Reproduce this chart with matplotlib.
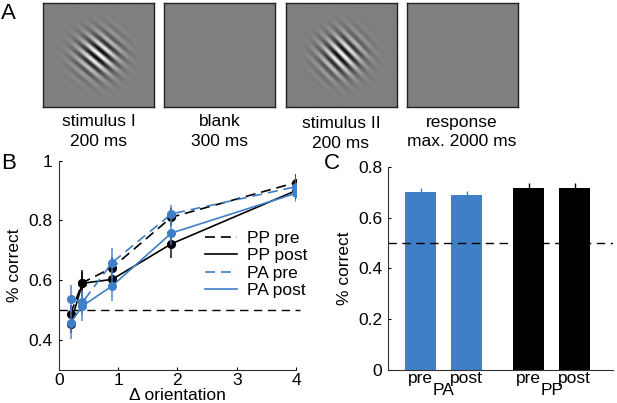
import matplotlib
matplotlib.use("Agg")
import matplotlib.pyplot as plt
import numpy as np

plt.rcParams['font.family'] = ['Liberation Sans', 'DejaVu Sans']
plt.rcParams['font.size'] = 12.5

# ---- data ----
# panel A: trial sequence
frame_titles = ['stimulus I', 'blank', 'stimulus II', 'response']
frame_times = ['200 ms', '300 ms', '200 ms', 'max. 2000 ms']
frame_has_grating = [True, False, True, False]
grating_angle = [40, None, 46, None]   # degrees, stripe tilt

# panel B: psychometric curves
d_orient = [0.2, 0.4, 0.9, 1.9, 4.0]
pp_pre = [0.488, 0.592, 0.642, 0.811, 0.927]
pp_post = [0.455, 0.590, 0.603, 0.722, 0.900]
pa_pre = [0.538, 0.526, 0.659, 0.822, 0.913]
pa_post = [0.458, 0.514, 0.581, 0.758, 0.891]
pp_pre_err = [0.03, 0.035, 0.035, 0.03, 0.03]
pp_post_err = [0.03, 0.045, 0.03, 0.048, 0.03]
pa_pre_err = [0.045, 0.04, 0.05, 0.03, 0.03]
pa_post_err = [0.055, 0.05, 0.05, 0.04, 0.03]

# panel C: mean performance
bar_labels = ['pre', 'post', 'pre', 'post']
group_labels = ['PA', 'PP']
bar_values = [0.702, 0.687, 0.715, 0.717]
bar_errs = [0.013, 0.018, 0.022, 0.020]

chance = 0.5

blue = '#3f7fc8'
W, H = 617, 403


def fx(px):
    return px / W


def fy(py):
    return 1 - py / H


def gabor(w, h, angle, lam=8.5, sigma=14.0):
    yy, xx = np.mgrid[0:h, 0:w]
    xx = xx - (w - 1) / 2
    yy = yy - (h - 1) / 2
    th = np.deg2rad(angle)
    # normal to stripes (image coords, y down)
    u = -xx * np.sin(th) + yy * np.cos(th)
    env = np.exp(-(xx ** 2 + yy ** 2) / (2 * sigma ** 2))
    return 0.5 + 0.5 * env * np.cos(2 * np.pi * u / lam + 0.6)


fig = plt.figure(figsize=(W / 100, H / 100), dpi=100)

# ---- A ----
img_w, img_h = 111, 104
for i in range(4):
    left = 43.3 + i * 121.1
    ax = fig.add_axes([fx(left), fy(107.3), fx(img_w), img_h / H])
    if frame_has_grating[i]:
        img = gabor(img_w, img_h, grating_angle[i])
    else:
        img = np.full((img_h, img_w), 0.5)
    ax.imshow(img, cmap='gray', vmin=0, vmax=1, aspect='auto', interpolation='bilinear')
    ax.set_xticks([])
    ax.set_yticks([])
    for s in ax.spines.values():
        s.set_linewidth(1.0)
        s.set_color('#222222')
    cx = fx(left + img_w / 2)
    dy = 2 if i == 2 else 0
    fig.text(cx, fy(126.5 + dy), frame_titles[i], ha='center', va='baseline')
    fig.text(cx, fy(146 + dy), frame_times[i], ha='center', va='baseline')

fig.text(fx(1), fy(19), 'A', fontsize=16, va='baseline')

# ---- B ----
axB = fig.add_axes([fx(58.7), fy(370), fx(237.3), (370 - 160.7) / H])
axB.plot([0, 4.06], [chance, chance], color='black', lw=1.0, dashes=(6, 4), clip_on=False)

series = [
    (pp_pre, pp_pre_err, 'black', (6, 3.5), 'PP pre'),
    (pp_post, pp_post_err, 'black', None, 'PP post'),
    (pa_pre, pa_pre_err, blue, (6, 3.5), 'PA pre'),
    (pa_post, pa_post_err, blue, None, 'PA post'),
]
handles = []
for vals, errs, col, dash, lab in series:
    axB.errorbar(d_orient, vals, yerr=errs, fmt='none', ecolor=col, elinewidth=1.2,
                 capsize=0, alpha=0.85)
    kw = dict(dashes=dash) if dash else {}
    ln, = axB.plot(d_orient, vals, color=col, lw=1.2, label=lab, **kw)
    axB.plot(d_orient, vals, 'o', color=col, ms=5.5, mec=col)
    handles.append(ln)

axB.set_xlim(0, 4)
axB.set_ylim(0.3, 1.0)
axB.set_xticks([0, 1, 2, 3, 4])
axB.set_yticks([0.4, 0.6, 0.8, 1.0])
axB.set_yticklabels(['0.4', '0.6', '0.8', '1'])
axB.spines['top'].set_visible(False)
axB.spines['right'].set_visible(False)
for s in ('left', 'bottom'):
    axB.spines[s].set_linewidth(0.8)
    axB.spines[s].set_color('#333333')
axB.tick_params(direction='in', length=2, width=0.8, pad=4.5)
axB.tick_params(axis='x', pad=2.5)
axB.set_ylabel('% correct')
axB.yaxis.set_label_coords(-0.155, 0.5)
axB.set_xlabel('Δ orientation')
axB.xaxis.set_label_coords(0.5, -0.088)

leg = axB.legend(handles=handles, loc='upper left', bbox_to_anchor=(0.616, 0.666),
                 frameon=False, handlelength=1.85, handletextpad=0.55,
                 labelspacing=0.13, borderpad=0, borderaxespad=0)

fig.text(fx(1), fy(169), 'B', fontsize=16, va='baseline')

# ---- C ----
axC = fig.add_axes([fx(388.3), fy(370), fx(224.7), (370 - 166.7) / H])
bar_x = [1, 2, 3.35, 4.35]
bar_cols = [blue, blue, 'black', 'black']
axC.bar(bar_x, bar_values, width=0.68, color=bar_cols)
for xx, v, e, c in zip(bar_x, bar_values, bar_errs, bar_cols):
    axC.errorbar([xx], [v], yerr=[[0], [e]], fmt='none', ecolor=c, elinewidth=1.0, capsize=0)
axC.plot([0.3, 5.18], [chance, chance], color='black', lw=1.0, dashes=(6, 4))
axC.set_xlim(0.3, 5.18)
axC.set_ylim(0, 0.8)
axC.set_yticks([0, 0.2, 0.4, 0.6, 0.8])
axC.set_yticklabels(['0', '0.2', '0.4', '0.6', '0.8'])
axC.set_xticks(bar_x)
axC.set_xticklabels(bar_labels)
axC.spines['top'].set_visible(False)
axC.spines['right'].set_visible(False)
for s in ('left', 'bottom'):
    axC.spines[s].set_linewidth(0.8)
    axC.spines[s].set_color('#333333')
axC.tick_params(axis='y', direction='in', length=2, width=0.8, pad=4.5)
axC.tick_params(axis='x', length=0, pad=1)
for gx, gl in zip([(bar_x[0] + bar_x[1]) / 2, (bar_x[2] + bar_x[3]) / 2], group_labels):
    axC.text(gx, -0.1, gl, transform=axC.get_xaxis_transform(), ha='center', va='center')
axC.set_ylabel('% correct')
axC.yaxis.set_label_coords(-0.162, 0.5)

fig.text(fx(324), fy(169), 'C', fontsize=16, va='baseline')

fig.savefig('out.png', dpi=100)
